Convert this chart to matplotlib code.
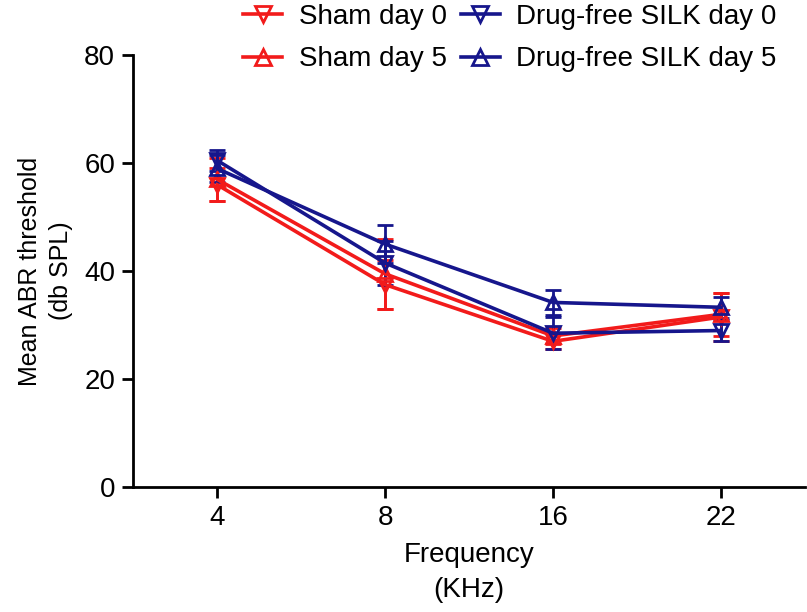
import matplotlib
matplotlib.use('Agg')
import matplotlib.pyplot as plt
from matplotlib.lines import Line2D
import numpy as np

plt.rcParams['font.family'] = ['Liberation Sans', 'DejaVu Sans']

freq_labels = ['4', '8', '16', '22']

sham_d0 = [56.0, 37.5, 27.0, 31.5]
sham_d0_err = [3.0, 4.5, 1.5, 4.5]
sham_d5 = [57.0, 39.5, 28.0, 32.0]
sham_d5_err = [4.0, 6.5, 1.5, 4.0]
silk_d0 = [60.5, 41.5, 28.5, 29.0]
silk_d0_err = [2.0, 4.0, 3.0, 2.0]
silk_d5 = [59.0, 45.0, 34.2, 33.3]
silk_d5_err = [2.5, 3.5, 2.3, 2.0]

red = '#F21B1B'
blue = '#16168C'

fig = plt.figure(figsize=(8.07, 6.12), dpi=100)
ax = fig.add_axes([0.165, 0.204, 0.8325, 0.706])

x = np.arange(1, len(freq_labels) + 1)
series = [
    ('Sham day 0', sham_d0, sham_d0_err, red, 'v'),
    ('Sham day 5', sham_d5, sham_d5_err, red, '^'),
    ('Drug-free SILK day 0', silk_d0, silk_d0_err, blue, 'v'),
    ('Drug-free SILK day 5', silk_d5, silk_d5_err, blue, '^'),
]
handles = []
for label, y, err, c, m in series:
    ax.errorbar(x, y, yerr=err, color=c, marker=m, markersize=10.5,
                markerfacecolor='none', markeredgewidth=2, linewidth=2.6,
                capsize=6, capthick=2, elinewidth=2)
    handles.append(Line2D([], [], color=c, marker=m, markersize=12,
                          markerfacecolor='none', markeredgewidth=2,
                          linewidth=2.6, label=label))

ax.set_xlim(0.5, 4.5)
ax.set_ylim(0, 80)
ax.set_xticks(x)
ax.set_xticklabels(freq_labels)
ax.set_yticks([0, 20, 40, 60, 80])
ax.spines['top'].set_visible(False)
ax.spines['right'].set_visible(False)
for s in ['left', 'bottom']:
    ax.spines[s].set_linewidth(2)
ax.tick_params(axis='both', width=2, length=8, labelsize=20, pad=5)

ax.set_xlabel('Frequency\n(KHz)', fontsize=20, labelpad=8, linespacing=1.45)
ax.set_ylabel('Mean ABR threshold\n(db SPL)', fontsize=18, labelpad=8, linespacing=1.35)

fig.legend(handles=handles, loc='center', bbox_to_anchor=(0.632, 0.938), ncol=2,
           frameon=False, fontsize=20, handlelength=1.4, columnspacing=0.5,
           handletextpad=0.6, labelspacing=0.6)

fig.savefig('out.png', dpi=100)
